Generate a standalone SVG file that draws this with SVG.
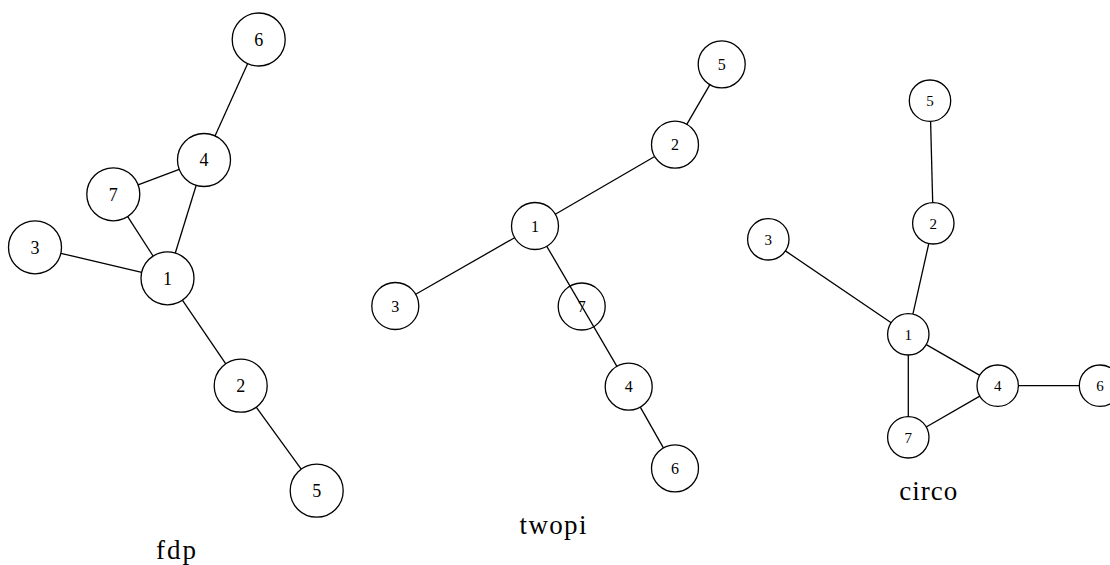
<svg xmlns="http://www.w3.org/2000/svg" width="1110" height="565" viewBox="0 0 1110 565">
<style>
  .bg { fill: #ffffff; }
  .node circle { fill: #ffffff; stroke: #000000; stroke-width: 1.3; }
  .edges line { stroke: #000000; stroke-width: 1.3; }
  text { font-family: "Liberation Serif", "Times New Roman", serif; fill: #000000; text-anchor: middle; }
  .f { font-size: 18px; }
  .t { font-size: 16px; }
  .c { font-size: 15px; }
  .title { font-size: 27px; }
</style>
<rect class="bg" x="0" y="0" width="1110" height="565"/>

<!-- fdp -->
<g id="fdp">
  <g id="fdp-n6" class="node"><circle cx="258.7" cy="39.5" r="26.5"/><text class="f" x="258.7" y="45.7">6</text></g>
  <g id="fdp-n4" class="node"><circle cx="204" cy="160" r="26.5"/><text class="f" x="204" y="166.2">4</text></g>
  <g id="fdp-n7" class="node"><circle cx="113.3" cy="194.3" r="26.5"/><text class="f" x="113.3" y="200.5">7</text></g>
  <g id="fdp-n3" class="node"><circle cx="35" cy="247.3" r="26.5"/><text class="f" x="35" y="253.5">3</text></g>
  <g id="fdp-n1" class="node"><circle cx="167.5" cy="278.3" r="26.5"/><text class="f" x="167.5" y="284.5">1</text></g>
  <g id="fdp-n2" class="node"><circle cx="240.7" cy="385.7" r="26.5"/><text class="f" x="240.7" y="391.9">2</text></g>
  <g id="fdp-n5" class="node"><circle cx="316.7" cy="490.7" r="26.5"/><text class="f" x="316.7" y="496.9">5</text></g>
  <text id="fdp-label" class="title" x="176" y="559" textLength="40" lengthAdjust="spacing">fdp</text>
</g>

<!-- twopi -->
<g id="twopi">
  <g id="twopi-n5" class="node"><circle cx="721.7" cy="64.3" r="23.5"/><text class="t" x="721.7" y="69.8">5</text></g>
  <g id="twopi-n2" class="node"><circle cx="675" cy="144.7" r="23.5"/><text class="t" x="675" y="150.2">2</text></g>
  <g id="twopi-n1" class="node"><circle cx="535" cy="226" r="23.5"/><text class="t" x="535" y="231.5">1</text></g>
  <g id="twopi-n3" class="node"><circle cx="395.3" cy="306" r="23.5"/><text class="t" x="395.3" y="311.5">3</text></g>
  <g id="twopi-n7" class="node"><circle cx="581.7" cy="306.5" r="23.5"/><text class="t" x="581.7" y="312">7</text></g>
  <g id="twopi-n4" class="node"><circle cx="628.7" cy="386.7" r="23.5"/><text class="t" x="628.7" y="392.2">4</text></g>
  <g id="twopi-n6" class="node"><circle cx="675" cy="468.3" r="23.5"/><text class="t" x="675" y="473.8">6</text></g>
  <text id="twopi-label" class="title" x="553" y="533.5" textLength="67" lengthAdjust="spacing">twopi</text>
</g>

<!-- circo -->
<g id="circo">
  <g id="circo-n5" class="node"><circle cx="930" cy="100.7" r="20.7"/><text class="c" x="930" y="105.9">5</text></g>
  <g id="circo-n2" class="node"><circle cx="933.3" cy="223.3" r="20.7"/><text class="c" x="933.3" y="228.5">2</text></g>
  <g id="circo-n3" class="node"><circle cx="768.3" cy="239.3" r="20.7"/><text class="c" x="768.3" y="244.5">3</text></g>
  <g id="circo-n1" class="node"><circle cx="908.3" cy="334.3" r="20.7"/><text class="c" x="908.3" y="339.5">1</text></g>
  <g id="circo-n4" class="node"><circle cx="997.7" cy="385.7" r="20.7"/><text class="c" x="997.7" y="390.9">4</text></g>
  <g id="circo-n6" class="node"><circle cx="1100" cy="385.7" r="20.7"/><text class="c" x="1100" y="390.9">6</text></g>
  <g id="circo-n7" class="node"><circle cx="908.3" cy="437.3" r="20.7"/><text class="c" x="908.3" y="442.5">7</text></g>
  <text id="circo-label" class="title" x="928.3" y="500" textLength="58" lengthAdjust="spacing">circo</text>
</g>

<!-- connectors -->
<g id="connectors" class="edges">
  <!-- fdp -->
  <line x1="247.7" y1="63.6" x2="215.0" y2="135.9"/>
  <line x1="179.2" y1="169.4" x2="138.1" y2="184.9"/>
  <line x1="196.2" y1="185.3" x2="175.3" y2="253.0"/>
  <line x1="127.7" y1="216.6" x2="153.1" y2="256.0"/>
  <line x1="60.8" y1="253.3" x2="141.7" y2="272.3"/>
  <line x1="182.4" y1="300.2" x2="225.8" y2="363.8"/>
  <line x1="256.2" y1="407.2" x2="301.2" y2="469.2"/>
  <!-- twopi -->
  <line x1="709.9" y1="84.6" x2="686.8" y2="124.4"/>
  <line x1="654.7" y1="156.5" x2="555.3" y2="214.2"/>
  <line x1="514.6" y1="237.7" x2="415.7" y2="294.3"/>
  <line x1="546.8" y1="246.3" x2="616.9" y2="366.4"/>
  <line x1="640.3" y1="407.1" x2="663.4" y2="447.9"/>
  <!-- circo -->
  <line x1="930.6" y1="121.4" x2="932.7" y2="202.6"/>
  <line x1="928.8" y1="243.5" x2="912.9" y2="314.1"/>
  <line x1="785.4" y1="250.9" x2="891.2" y2="322.7"/>
  <line x1="926.3" y1="344.6" x2="979.8" y2="375.4"/>
  <line x1="908.3" y1="355" x2="908.3" y2="416.6"/>
  <line x1="926.2" y1="427.0" x2="979.8" y2="396.1"/>
  <line x1="1018.4" y1="385.7" x2="1079.3" y2="385.7"/>
</g>
</svg>
